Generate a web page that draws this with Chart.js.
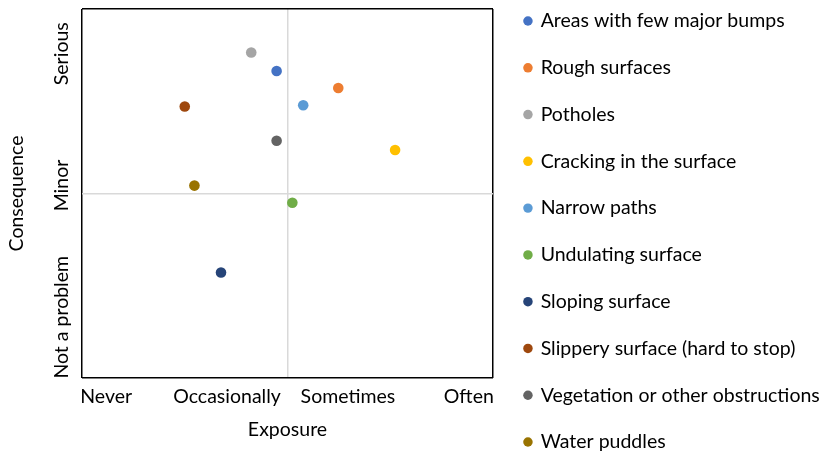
<!DOCTYPE html>
<html>
<head>
<meta charset="utf-8">
<script src="https://cdn.jsdelivr.net/npm/chart.js@4/dist/chart.umd.min.js"></script>
<style>
  html, body { margin: 0; padding: 0; background: #fff; }
  #wrap { width: 821px; height: 454px; }
</style>
</head>
<body>
<div id="wrap"><canvas id="chart"></canvas></div>
<script>
// Surface hazards rated by how often they are met and how bad they are
const hazards = [
  'Areas with few major bumps',
  'Rough surfaces',
  'Potholes',
  'Cracking in the surface',
  'Narrow paths',
  'Undulating surface',
  'Sloping surface',
  'Slippery surface (hard to stop)',
  'Vegetation or other obstructions',
  'Water puddles'
];
// 1 = Never ... 4 = Often
const exposure = [2.41, 2.92, 2.20, 3.39, 2.63, 2.54, 1.95, 1.65, 2.41, 1.73];
// 1 = Not a problem ... 3 = Serious
const consequence = [2.93, 2.80, 3.07, 2.33, 2.67, 1.93, 1.40, 2.66, 2.40, 2.06];
const colors = ['#4472C4', '#ED7D31', '#A5A5A5', '#FFC000', '#5B9BD5',
                '#70AD47', '#264478', '#9E480E', '#636363', '#997300'];
const exposureLabels = ['Never', 'Occasionally', 'Sometimes', 'Often'];
const consequenceLabels = ['Not a problem', 'Minor', 'Serious'];

const FAMILY = 'Lato';
const SIZE = 19.5;
const TEXT = '#000';

// axis extents, with the quadrant divider in the middle of each
const X_MIN = 0.8, X_MAX = 4.2, X_MID = 2.5;
const Y_MIN = 0.6, Y_MAX = 3.4, Y_MID = 2;

// rotated consequence labels are centred on a column next to the plot
const measure = document.createElement('canvas').getContext('2d');
measure.font = SIZE + 'px ' + FAMILY;
const widestY = Math.max(...consequenceLabels.map(t => measure.measureText(t).width));
const Y_AXIS_W = 82;
const yTickPad = Y_AXIS_W - 62 - widestY / 2;

// legend rows: spacing between rows and padding round the items
const ROW = 46.78;
const LEGEND_PAD = 2;

const datasets = hazards.map((name, i) => ({
  label: name,
  data: [{ x: exposure[i], y: consequence[i] }],
  backgroundColor: colors[i],
  borderColor: colors[i],
  borderWidth: 0,
  pointRadius: 5.3,
  pointHoverRadius: 5.3,
  pointBorderWidth: 0
}));

function edgeOrMid(min, max, mid, edge, middle, none) {
  return ctx => {
    const v = ctx.tick.value;
    if (Math.abs(v - min) < 1e-9 || Math.abs(v - max) < 1e-9) return edge;
    if (Math.abs(v - mid) < 1e-9) return middle;
    return none;
  };
}

const font = { family: FAMILY, size: SIZE };

new Chart(document.getElementById('chart'), {
  type: 'scatter',
  data: { datasets },
  options: {
    responsive: true,
    maintainAspectRatio: false,
    animation: false,
    events: [],
    layout: { padding: { top: 9, right: 0, bottom: 0, left: 0 } },
    scales: {
      x: {
        type: 'linear',
        min: X_MIN,
        max: X_MAX,
        afterBuildTicks: s => {
          s.ticks = [X_MIN, 1, 2, X_MID, 3, 4, X_MAX].map(v => ({ value: v }));
        },
        afterFit: s => { s.height = 76; },
        border: { display: false },
        grid: {
          drawTicks: false,
          color: edgeOrMid(X_MIN, X_MAX, X_MID, '#000', '#d9d9d9', 'rgba(0,0,0,0)'),
          lineWidth: edgeOrMid(X_MIN, X_MAX, X_MID, 1.5, 1.5, 0)
        },
        ticks: {
          autoSkip: false,
          maxRotation: 0,
          padding: 6.8,
          color: TEXT,
          font,
          callback: v => Number.isInteger(v) ? exposureLabels[v - 1] : ''
        },
        title: {
          display: true,
          text: 'Exposure',
          color: TEXT,
          font,
          padding: { top: 0, bottom: 12.3 }
        }
      },
      y: {
        type: 'linear',
        min: Y_MIN,
        max: Y_MAX,
        afterBuildTicks: s => {
          s.ticks = [Y_MIN, 1, Y_MID, 3, Y_MAX].map(v => ({ value: v }));
        },
        afterFit: s => {
          s.width = Y_AXIS_W;
          s.paddingTop = 0;
          s.paddingBottom = 0;
        },
        border: { display: false },
        grid: {
          drawTicks: false,
          color: edgeOrMid(Y_MIN, Y_MAX, Y_MID, '#000', '#d9d9d9', 'rgba(0,0,0,0)'),
          lineWidth: edgeOrMid(Y_MIN, Y_MAX, Y_MID, 1.5, 1.5, 0)
        },
        ticks: {
          autoSkip: false,
          minRotation: 90,
          maxRotation: 90,
          crossAlign: 'center',
          padding: yTickPad,
          labelOffset: -8,
          color: TEXT,
          font,
          callback: v => Number.isInteger(v) ? consequenceLabels[v - 1] : ''
        },
        title: {
          display: true,
          text: 'Consequence',
          color: TEXT,
          font,
          padding: { top: 5.3, bottom: 0 }
        }
      },
      // empty column between the plot frame and the legend
      gap: {
        type: 'linear',
        position: 'right',
        display: true,
        grid: { display: false, drawTicks: false },
        border: { display: false },
        ticks: { display: false },
        afterFit: s => { s.width = 32 - LEGEND_PAD; }
      }
    },
    plugins: {
      tooltip: { enabled: false },
      legend: {
        position: 'right',
        align: 'start',
        maxWidth: 296 + LEGEND_PAD,
        title: { display: true, text: '', font: { size: 2.25 - LEGEND_PAD + 0.001, lineHeight: 1 }, padding: 0 },
        labels: {
          usePointStyle: true,
          pointStyle: 'circle',
          boxWidth: 5.9,
          boxHeight: 6.7,
          padding: LEGEND_PAD,
          color: TEXT,
          font: { family: FAMILY, size: SIZE, lineHeight: (ROW - LEGEND_PAD) / SIZE },
          generateLabels: chart =>
            Chart.defaults.plugins.legend.labels.generateLabels(chart)
              .map(item => Object.assign(item, { text: [item.text] }))
        }
      }
    }
  }
});
</script>
</body>
</html>
